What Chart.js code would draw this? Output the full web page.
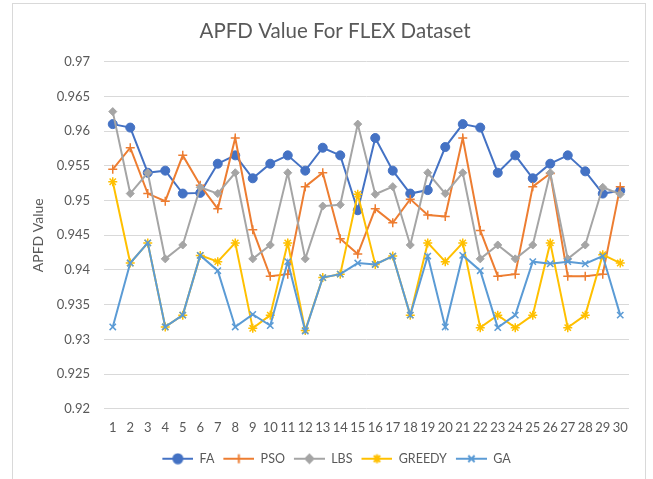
<!DOCTYPE html>
<html>
<head>
<meta charset="utf-8">
<script src="https://cdn.jsdelivr.net/npm/chart.js@4"></script>
<style>
html,body{margin:0;padding:0;background:#fff;}
#wrap{position:absolute;left:0;top:0;width:653px;height:479px;}
</style>
</head>
<body>
<div id="wrap"><canvas id="c" width="653" height="479"></canvas></div>
<script>
const categories = ['1','2','3','4','5','6','7','8','9','10','11','12','13','14','15','16','17','18','19','20','21','22','23','24','25','26','27','28','29','30'];
const FA = [0.9610,0.9605,0.9540,0.9543,0.9510,0.9511,0.9553,0.9565,0.9532,0.9553,0.9565,0.9543,0.9576,0.9565,0.9486,0.9590,0.9543,0.9510,0.9515,0.9577,0.9610,0.9605,0.9540,0.9565,0.9532,0.9553,0.9565,0.9542,0.9510,0.9514];
const PSO = [0.9545,0.9576,0.9510,0.9499,0.9565,0.9522,0.9488,0.9590,0.9458,0.9391,0.9394,0.9520,0.9540,0.9445,0.9423,0.9488,0.9468,0.9502,0.9479,0.9477,0.9590,0.9457,0.9391,0.9394,0.9520,0.9539,0.9391,0.9391,0.9394,0.9520];
const LBS = [0.9628,0.9510,0.9540,0.9416,0.9436,0.9519,0.9510,0.9540,0.9416,0.9436,0.9540,0.9416,0.9492,0.9494,0.9610,0.9509,0.9520,0.9436,0.9540,0.9510,0.9540,0.9416,0.9436,0.9416,0.9436,0.9540,0.9416,0.9436,0.9519,0.9509];
const GREEDY = [0.9527,0.9410,0.9439,0.9318,0.9335,0.9421,0.9412,0.9439,0.9316,0.9335,0.9439,0.9313,0.9389,0.9394,0.9509,0.9408,0.9420,0.9335,0.9439,0.9412,0.9439,0.9317,0.9335,0.9317,0.9335,0.9439,0.9317,0.9335,0.9422,0.9410];
const GA = [0.9318,0.9410,0.9439,0.9318,0.9335,0.9421,0.9399,0.9318,0.9336,0.9320,0.9412,0.9312,0.9389,0.9394,0.9410,0.9408,0.9420,0.9335,0.9420,0.9318,0.9421,0.9399,0.9317,0.9335,0.9412,0.9409,0.9412,0.9409,0.9420,0.9335];
const yTicks = [0.92,0.925,0.93,0.935,0.94,0.945,0.95,0.955,0.96,0.965,0.97];
const seriesNames = ['FA','PSO','LBS','GREEDY','GA'];

const TEXT = '#595959';
const FONT = 'Lato, "Open Sans", sans-serif';
const styles = [
  {color:'#4472C4', point:'circle', radius:4.5, bw:1},
  {color:'#ED7D31', point:'cross', radius:4.5, bw:1.5},
  {color:'#A5A5A5', point:'rectRot', radius:4, bw:1},
  {color:'#FFC000', point:'star', radius:4.5, bw:1.5},
  {color:'#5B9BD5', point:'crossRot', radius:4.5, bw:1.5}
];
const values = [FA, PSO, LBS, GREEDY, GA];

function legendImage(st){
  const cv = document.createElement('canvas');
  cv.width = 34; cv.height = 12;
  const ctx = cv.getContext('2d');
  ctx.strokeStyle = st.color; ctx.lineWidth = 2;
  ctx.beginPath(); ctx.moveTo(3,6); ctx.lineTo(34,6); ctx.stroke();
  ctx.fillStyle = st.color;
  Chart.helpers.drawPoint(ctx, {pointStyle: st.point, radius: st.radius, borderWidth: st.bw, rotation: 0}, 18.5, 6);
  return cv;
}

const datasets = seriesNames.map((name, i) => ({
  label: name,
  data: values[i],
  borderColor: styles[i].color,
  backgroundColor: styles[i].color,
  pointStyle: styles[i].point,
  pointRadius: styles[i].radius,
  pointHoverRadius: styles[i].radius,
  pointBorderWidth: styles[i].bw,
  pointBackgroundColor: styles[i].color,
  pointBorderColor: styles[i].color,
  borderWidth: 2,
  tension: 0,
  order: seriesNames.length - i
}));

const borderPlugin = {
  id: 'outerBorder',
  beforeDraw(chart){
    const ctx = chart.ctx;
    ctx.save();
    ctx.fillStyle = '#fff';
    ctx.fillRect(0,0,chart.width,chart.height);
    ctx.strokeStyle = '#D9D9D9';
    ctx.lineWidth = 1;
    ctx.strokeRect(12.5, 3.5, 633, 490);
    ctx.restore();
  }
};

new Chart(document.getElementById('c'), {
  type: 'line',
  data: { labels: categories, datasets },
  plugins: [borderPlugin],
  options: {
    responsive: false,
    animation: false,
    devicePixelRatio: 1,
    layout: { padding: { left: 41, right: 24, top: 0, bottom: 4 } },
    plugins: {
      title: {
        display: true,
        text: 'APFD Value For FLEX Dataset',
        color: TEXT,
        font: { family: FONT, size: 20.5, weight: 'normal' },
        padding: { top: 19, bottom: 18 }
      },
      legend: {
        display: true,
        position: 'bottom',
        labels: {
          usePointStyle: true,
          pointStyleWidth: 34,
          boxHeight: 12,
          color: TEXT,
          font: { family: FONT, size: 12.5 },
          padding: 6,
          sort: (a, b) => a.datasetIndex - b.datasetIndex,
          generateLabels(chart){
            return seriesNames.map((n, i) => ({
              text: n,
              datasetIndex: i,
              pointStyle: legendImage(styles[i]),
              fillStyle: styles[i].color,
              strokeStyle: styles[i].color,
              lineWidth: 0,
              fontColor: TEXT,
              hidden: false
            }));
          }
        }
      },
      tooltip: { enabled: false }
    },
    scales: {
      x: {
        offset: true,
        grid: { display: false, drawTicks: false },
        border: { display: false },
        ticks: { color: TEXT, font: { family: FONT, size: 13 }, padding: 11, maxRotation: 0, autoSkip: false }
      },
      y: {
        min: 0.92,
        max: 0.97,
        afterFit(scale){ scale.width = 63; },
        afterBuildTicks(scale){ scale.ticks = yTicks.map(v => ({ value: v })); },
        grid: { color: '#D9D9D9', lineWidth: 1, drawTicks: false },
        border: { display: false },
        ticks: {
          color: TEXT,
          font: { family: FONT, size: 13 },
          padding: 14,
          callback: v => String(Number(v.toFixed(3)))
        },
        title: {
          display: true,
          text: 'APFD Value',
          color: TEXT,
          font: { family: FONT, size: 14 },
          padding: { top: -11.4, bottom: 0 }
        }
      }
    }
  }
});
</script>
</body>
</html>
